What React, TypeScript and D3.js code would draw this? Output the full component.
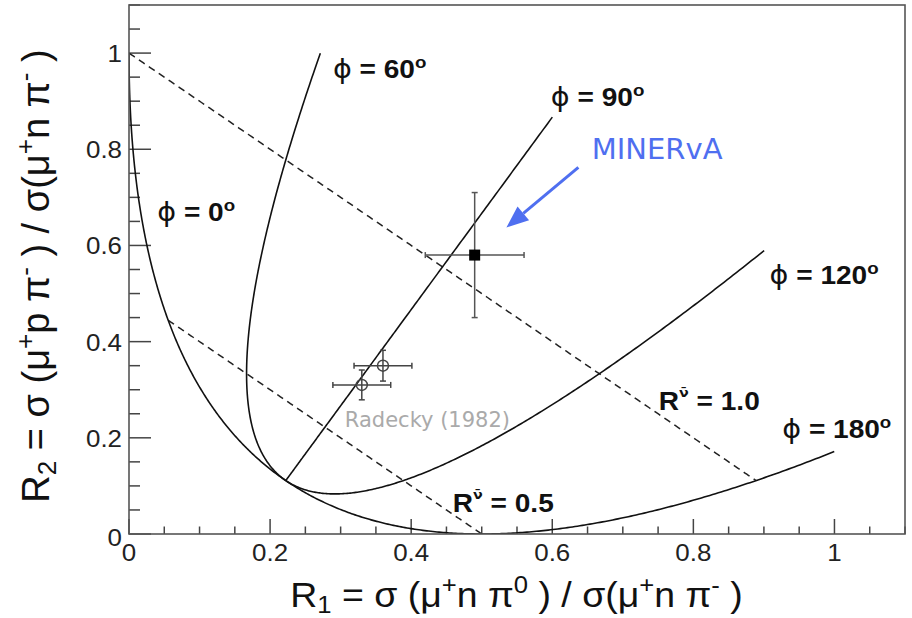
import React from "react";
import * as d3 from "d3";

// Isospin phase curves: relative phase (degrees) and the largest amplitude ratio drawn
const PHASES_DEG = [0, 60, 90, 120, 180];
const PHASE_R_MAX = [1.0, 1.186, 1.304, 1.317, 1.121];

// Constant amplitude-ratio contours (dashed)
const R_CONTOURS = [0.5, 1.0];
const R_CONTOUR_LABELS = ["0.5", "1.0"];

// MINERvA measurement
const MINERVA_R1 = [0.49];
const MINERVA_R2 = [0.58];
const MINERVA_R1_ERR = [0.07];
const MINERVA_R2_ERR = [0.13];

// Radecky (1982) bubble-chamber points
const RADECKY_R1 = [0.33, 0.36];
const RADECKY_R2 = [0.31, 0.35];
const RADECKY_R1_ERR = [0.041, 0.041];
const RADECKY_R2_ERR = [0.031, 0.032];

// Axis ticks
const MAJOR_TICKS = [0, 0.2, 0.4, 0.6, 0.8, 1];
const TICK_LABELS = ["0", "0.2", "0.4", "0.6", "0.8", "1"];

const W = 912;
const H = 618;
const LEFT = 129;
const RIGHT = 905;
const TOP = 5;
const BOTTOM = 534;

const ROOT_FONT = "'Liberation Sans', Arial, Helvetica, sans-serif";
const NOTE_FONT = "'DejaVu Sans', 'Liberation Sans', sans-serif";
const BLUE = "#4f6ff0";

const x = d3.scaleLinear().domain([0, 1.1]).range([LEFT, RIGHT]);
const y = d3.scaleLinear().domain([0, 1.1]).range([BOTTOM, TOP]);

// R1 = s(mu+ n pi0)/s(mu+ n pi-), R2 = s(mu+ p pi-)/s(mu+ n pi-)
const ratio1 = (R: number, phi: number) => (2 / 9) * (1 + R * R - 2 * R * Math.cos(phi));
const ratio2 = (R: number, phi: number) => (1 / 9) * (1 + 4 * R * R + 4 * R * Math.cos(phi));

const line = d3
  .line<[number, number]>()
  .x((d) => x(d[0]))
  .y((d) => y(d[1]));

const N = 240;

function phaseCurve(i: number): [number, number][] {
  const phi = (PHASES_DEG[i] * Math.PI) / 180;
  return d3.range(N + 1).map((k) => {
    const R = (PHASE_R_MAX[i] * k) / N;
    return [ratio1(R, phi), ratio2(R, phi)] as [number, number];
  });
}

function contour(R: number): [number, number][] {
  return d3.range(N + 1).map((k) => {
    const phi = (Math.PI * k) / N;
    return [ratio1(R, phi), ratio2(R, phi)] as [number, number];
  });
}

// Annotation anchors in data coordinates
const PHASE_LABEL_AT: [number, number][] = [
  [0.04, 0.65],
  [0.289, 0.948],
  [0.598, 0.89],
  [0.908, 0.519],
  [0.926, 0.2],
];
const CONTOUR_LABEL_AT: [number, number][] = [
  [0.459, 0.046],
  [0.751, 0.258],
];

const SX = 1.1;

function Stretch({
  px,
  py,
  sx,
  anchor = "start",
  children,
  ...rest
}: any) {
  return (
    <text
      transform={`translate(${px},${py}) scale(${sx},1)`}
      textAnchor={anchor}
      style={{ whiteSpace: "pre" }}
      {...rest}
    >
      {children}
    </text>
  );
}

function PhaseLabel({ at, deg }: { at: [number, number]; deg: number }) {
  return (
    <Stretch px={x(at[0])} py={y(at[1])} sx={SX} fontFamily={ROOT_FONT} fontSize={25.5} fill="#111">
      <tspan fontWeight="normal" fontFamily={NOTE_FONT} fontSize={26}>ϕ</tspan>
      <tspan fontWeight="bold">{" = " + deg}</tspan>
      <tspan fontWeight="bold" fontSize={17} dy={-10}>o</tspan>
    </Stretch>
  );
}

function ContourLabel({ at, text }: { at: [number, number]; text: string }) {
  return (
    <Stretch px={x(at[0])} py={y(at[1])} sx={SX} fontFamily={ROOT_FONT} fontSize={25.5} fill="#111" fontWeight="bold">
      <tspan>R</tspan>
      <tspan fontSize={13} dy={-13} fontFamily={NOTE_FONT}>ν̄</tspan>
      <tspan dy={13}>{" = " + text}</tspan>
    </Stretch>
  );
}

export default function App() {
  const minorTicks = d3.range(0, 1.1001, 0.05).filter((v) => Math.abs(v / 0.2 - Math.round(v / 0.2)) > 1e-6);

  // Arrow pointing at the MINERvA point
  const a0: [number, number] = [x(0.637), y(0.7625)];
  const a1: [number, number] = [x(0.535), y(0.6375)];
  const dx = a1[0] - a0[0];
  const dy = a1[1] - a0[1];
  const len = Math.hypot(dx, dy);
  const ux = dx / len;
  const uy = dy / len;
  const headL = 22;
  const headW = 9;
  const bx = a1[0] - ux * headL;
  const by = a1[1] - uy * headL;
  const head = [
    [a1[0], a1[1]],
    [bx - uy * headW, by + ux * headW],
    [bx + uy * headW, by - ux * headW],
  ]
    .map((p) => p.join(","))
    .join(" ");

  return (
    <svg
      width={W}
      height={H}
      viewBox={`0 0 ${W} ${H}`}
      style={{ position: "absolute", left: 0, top: 0, background: "#fff" }}
    >
      <rect x={0} y={0} width={W} height={H} fill="#fff" />
      <defs>
        <clipPath id="plotArea">
          <rect x={LEFT} y={TOP} width={RIGHT - LEFT} height={BOTTOM - TOP} />
        </clipPath>
      </defs>

      {/* ticks */}
      <g stroke="#444" strokeWidth={1.5}>
        {MAJOR_TICKS.map((v) => (
          <line key={"xM" + v} x1={x(v)} x2={x(v)} y1={BOTTOM} y2={BOTTOM - 15} />
        ))}
        {minorTicks.map((v) => (
          <line key={"xm" + v} x1={x(v)} x2={x(v)} y1={BOTTOM} y2={BOTTOM - 7.5} />
        ))}
        {MAJOR_TICKS.map((v) => (
          <line key={"yM" + v} x1={LEFT} x2={LEFT + 22} y1={y(v)} y2={y(v)} />
        ))}
        {minorTicks.map((v) => (
          <line key={"ym" + v} x1={LEFT} x2={LEFT + 11} y1={y(v)} y2={y(v)} />
        ))}
      </g>

      {/* tick labels */}
      <g fontFamily={ROOT_FONT} fontSize={24} fill="#222">
        {MAJOR_TICKS.map((v, i) => (
          <Stretch key={"xl" + v} px={x(v)} py={561} sx={1.08} anchor="middle">
            {TICK_LABELS[i]}
          </Stretch>
        ))}
        {MAJOR_TICKS.map((v, i) => (
          <Stretch key={"yl" + v} px={122} py={v === 0 ? 546 : y(v) + 9} sx={1.08} anchor="end">
            {TICK_LABELS[i]}
          </Stretch>
        ))}
      </g>

      <g clipPath="url(#plotArea)">
        {/* constant-ratio contours */}
        {R_CONTOURS.map((R) => (
          <path
            key={"c" + R}
            d={line(contour(R)) || ""}
            fill="none"
            stroke="#222"
            strokeWidth={1.5}
            strokeDasharray="7 5"
          />
        ))}

        {/* phase curves */}
        {PHASES_DEG.map((deg, i) => (
          <path key={"p" + deg} d={line(phaseCurve(i)) || ""} fill="none" stroke="#111" strokeWidth={1.6} />
        ))}

        {/* Radecky points */}
        <g stroke="#444" strokeWidth={1.5} fill="none">
          {RADECKY_R1.map((v, i) => {
            const cx = x(v);
            const cy = y(RADECKY_R2[i]);
            const xl = x(v - RADECKY_R1_ERR[i]);
            const xr = x(v + RADECKY_R1_ERR[i]);
            const yt = y(RADECKY_R2[i] + RADECKY_R2_ERR[i]);
            const yb = y(RADECKY_R2[i] - RADECKY_R2_ERR[i]);
            return (
              <g key={"rad" + i}>
                <line x1={xl} x2={xr} y1={cy} y2={cy} />
                <line x1={cx} x2={cx} y1={yt} y2={yb} />
                <line x1={xl} x2={xl} y1={cy - 3} y2={cy + 3} />
                <line x1={xr} x2={xr} y1={cy - 3} y2={cy + 3} />
                <line x1={cx - 3} x2={cx + 3} y1={yt} y2={yt} />
                <line x1={cx - 3} x2={cx + 3} y1={yb} y2={yb} />
                <circle cx={cx} cy={cy} r={5.5} />
              </g>
            );
          })}
        </g>

        {/* MINERvA point */}
        <g stroke="#555" strokeWidth={1.5}>
          {MINERVA_R1.map((v, i) => {
            const cx = x(v);
            const cy = y(MINERVA_R2[i]);
            const xl = x(v - MINERVA_R1_ERR[i]);
            const xr = x(v + MINERVA_R1_ERR[i]);
            const yt = y(MINERVA_R2[i] + MINERVA_R2_ERR[i]);
            const yb = y(MINERVA_R2[i] - MINERVA_R2_ERR[i]);
            return (
              <g key={"min" + i}>
                <line x1={xl} x2={xr} y1={cy} y2={cy} />
                <line x1={cx} x2={cx} y1={yt} y2={yb} />
                <line x1={xl} x2={xl} y1={cy - 3} y2={cy + 3} />
                <line x1={xr} x2={xr} y1={cy - 3} y2={cy + 3} />
                <line x1={cx - 3} x2={cx + 3} y1={yt} y2={yt} />
                <line x1={cx - 3} x2={cx + 3} y1={yb} y2={yb} />
                <rect x={cx - 5.5} y={cy - 5.5} width={11} height={11} fill="#000" stroke="none" />
              </g>
            );
          })}
        </g>
      </g>

      {/* frame */}
      <rect
        x={LEFT}
        y={TOP}
        width={RIGHT - LEFT}
        height={BOTTOM - TOP}
        fill="none"
        stroke="#555"
        strokeWidth={1.6}
      />

      {/* curve labels */}
      {PHASES_DEG.map((deg, i) => (
        <PhaseLabel key={"pl" + deg} at={PHASE_LABEL_AT[i]} deg={deg} />
      ))}
      {R_CONTOURS.map((R, i) => (
        <ContourLabel key={"cl" + R} at={CONTOUR_LABEL_AT[i]} text={R_CONTOUR_LABELS[i]} />
      ))}

      {/* annotations */}
      <text x={x(0.656)} y={y(0.779)} fontFamily={NOTE_FONT} fontSize={29} fill={BLUE}>
        MINERvA
      </text>
      <line x1={a0[0]} y1={a0[1]} x2={bx} y2={by} stroke={BLUE} strokeWidth={3} />
      <polygon points={head} fill={BLUE} />
      <text x={x(0.306)} y={y(0.223)} fontFamily={NOTE_FONT} fontSize={21} fill="#aaa">
        Radecky (1982)
      </text>

      {/* axis titles */}
      <Stretch px={516.5} py={607} sx={1.07} anchor="middle" fontFamily={ROOT_FONT} fontSize={35} fill="#111">
        <tspan>R</tspan>
        <tspan fontSize={24} dy={6}>1</tspan>
        <tspan dy={-6}>{" = σ (μ"}</tspan>
        <tspan fontSize={24} dy={-14}>+</tspan>
        <tspan dy={14}>{"n π"}</tspan>
        <tspan fontSize={24} dy={-14}>0</tspan>
        <tspan dy={14}>{" ) / σ(μ"}</tspan>
        <tspan fontSize={24} dy={-14}>+</tspan>
        <tspan dy={14}>{"n π"}</tspan>
        <tspan fontSize={24} dy={-14}>-</tspan>
        <tspan dy={14}>{" )"}</tspan>
      </Stretch>
      <text
        transform="translate(49,276) rotate(-90)"
        textAnchor="middle"
        fontFamily={ROOT_FONT}
        fontSize={38}
        fill="#111"
        style={{ whiteSpace: "pre" }}
      >
        <tspan>R</tspan>
        <tspan fontSize={26} dy={7}>2</tspan>
        <tspan dy={-7}>{" = σ (μ"}</tspan>
        <tspan fontSize={26} dy={-15}>+</tspan>
        <tspan dy={15}>{"p π"}</tspan>
        <tspan fontSize={26} dy={-15}>-</tspan>
        <tspan dy={15}>{" ) / σ(μ"}</tspan>
        <tspan fontSize={26} dy={-15}>+</tspan>
        <tspan dy={15}>{"n π"}</tspan>
        <tspan fontSize={26} dy={-15}>-</tspan>
        <tspan dy={15}>{" )"}</tspan>
      </text>
    </svg>
  );
}
